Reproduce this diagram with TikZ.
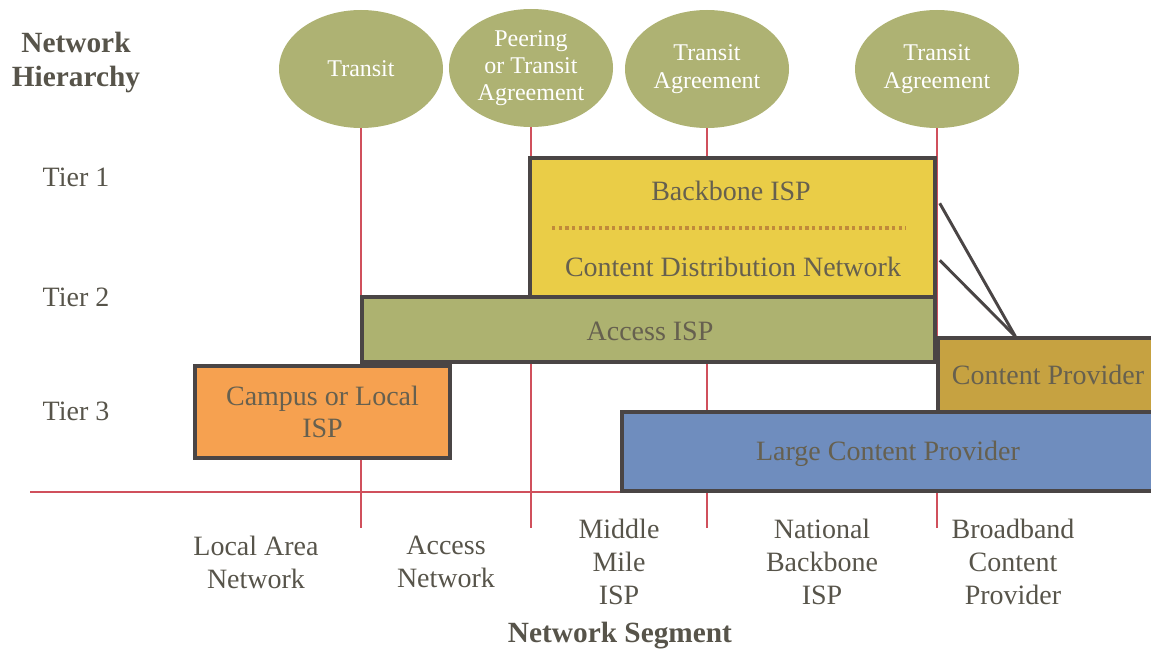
\documentclass[tikz,border=0pt]{standalone}
\usepackage{fontspec}
\setmainfont{Liberation Serif}
\usetikzlibrary{calc,shapes.geometric}

\definecolor{olivefill}{HTML}{AEB273}
\definecolor{accessfill}{HTML}{ADB270}
\definecolor{yellowfill}{HTML}{EACD47}
\definecolor{orangefill}{HTML}{F6A150}
\definecolor{goldfill}{HTML}{C6A241}
\definecolor{bluefill}{HTML}{6F8DBE}
\definecolor{edgegray}{HTML}{4A4545}
\definecolor{inkgray}{HTML}{66604F}
\definecolor{labelgray}{HTML}{57544A}
\definecolor{gridred}{HTML}{D0505C}
\definecolor{dotbrown}{HTML}{C18A3A}

\newlength{\pxu}
\setlength{\pxu}{0.75pt}

\begin{document}
\begin{tikzpicture}[x=0.75pt,y=-0.75pt,
  agreement/.style={ellipse, fill=olivefill, text=white, align=center,
    minimum width=164\pxu, minimum height=118\pxu, inner sep=0pt,
    font=\fontsize{18}{20.5}\selectfont},
  gridline/.style={draw=gridred, line width=1.5pt},
  layerbox/.style={draw=edgegray, line width=2.6pt, inner sep=0pt,
    text=inkgray, align=center, font=\fontsize{21}{24.5}\selectfont},
  boxtext/.style={text=inkgray, font=\fontsize{21}{24.5}\selectfont},
  tierlabel/.style={text=labelgray, font=\fontsize{21}{24.5}\selectfont},
  heading/.style={text=labelgray, align=center,
    font=\bfseries\fontsize{22}{25.5}\selectfont},
  segment/.style={text=labelgray, align=center,
    font=\fontsize{21}{24.75}\selectfont},
  link/.style={draw=edgegray, line width=2.2pt}]
\useasboundingbox (0,0) rectangle (1151,649);

% agreements between segments
\node[agreement] (e1) at (361,69) {Transit};
\node[agreement] (e2) at (531,68) {Peering\\or Transit\\Agreement};
\node[agreement] (e3) at (707,69) {Transit\\Agreement};
\node[agreement] (e4) at (937,69) {Transit\\Agreement};

% segment boundaries and the baseline
\coordinate (b1) at (361,528);
\coordinate (b2) at (531,528);
\coordinate (b3) at (707,528);
\coordinate (b4) at (937,528);
\draw[gridline] (e1) -- (b1);
\draw[gridline] (e2) -- (b2);
\draw[gridline] (e3) -- (b3);
\draw[gridline] (e4) -- (b4);
\coordinate (hl) at (30,492);
\coordinate (hr) at (1151,492);
\draw[gridline, line width=2.2pt] (hl) -- (hr);

% network layers
\node[layerbox, fill=yellowfill, minimum width=405\pxu, minimum height=139\pxu] (bb) at (732.5,227.5) {};
\node[boxtext] (bbtxt) at (731,191) {Backbone ISP};
\node[boxtext] (cdntxt) at (733,267) {Content Distribution Network};
\coordinate (dl) at (552,228);
\coordinate (dr) at (906,228);
\draw[draw=dotbrown, line width=3pt, dash pattern=on 2.6pt off 2.4pt] (dl) -- (dr);

\node[layerbox, fill=accessfill, minimum width=573\pxu, minimum height=65\pxu] (acc) at (648.5,329.5) {};
\node[boxtext] (acctxt) at (650,331) {Access ISP};

\node[layerbox, fill=orangefill, minimum width=255\pxu, minimum height=92\pxu] (camp) at (322.5,412) {Campus or Local\\ISP};

\node[layerbox, fill=goldfill, minimum width=220\pxu, minimum height=74\pxu] (cp) at (1048,375) {Content Provider};

\node[layerbox, fill=bluefill, minimum width=538\pxu, minimum height=79\pxu] (lcp) at (891,451.5) {};
\node[boxtext] (lcptxt) at (888,454) {Large Content Provider};

% content provider peering with the backbone
\coordinate (cptop) at ($(cp.north west)+(79,0)$);
\coordinate (bbhi) at ($(bb.north east)+(3,47)$);
\coordinate (bblo) at ($(bb.north east)+(3,104)$);
\draw[link] (bbhi) -- (cptop);
\draw[link] (bblo) -- (cptop);

% hierarchy labels
\node[heading] (hier) at (76,62) {Network\\Hierarchy};
\node[tierlabel] (t1) at (76,177) {Tier 1};
\node[tierlabel] (t2) at (76,297) {Tier 2};
\node[tierlabel] (t3) at (76,411) {Tier 3};

% segment labels
\node[segment] (s1) at (256,562) {Local Area\\Network};
\node[segment] (s2) at (446,562) {Access\\Network};
\node[segment] (s3) at (619,562) {Middle\\Mile\\ISP};
\node[segment] (s4) at (822,562) {National\\Backbone\\ISP};
\node[segment] (s5) at (1013,562) {Broadband\\Content\\Provider};
\node[heading] (seg) at (620,636) {Network Segment};
\end{tikzpicture}
\end{document}
